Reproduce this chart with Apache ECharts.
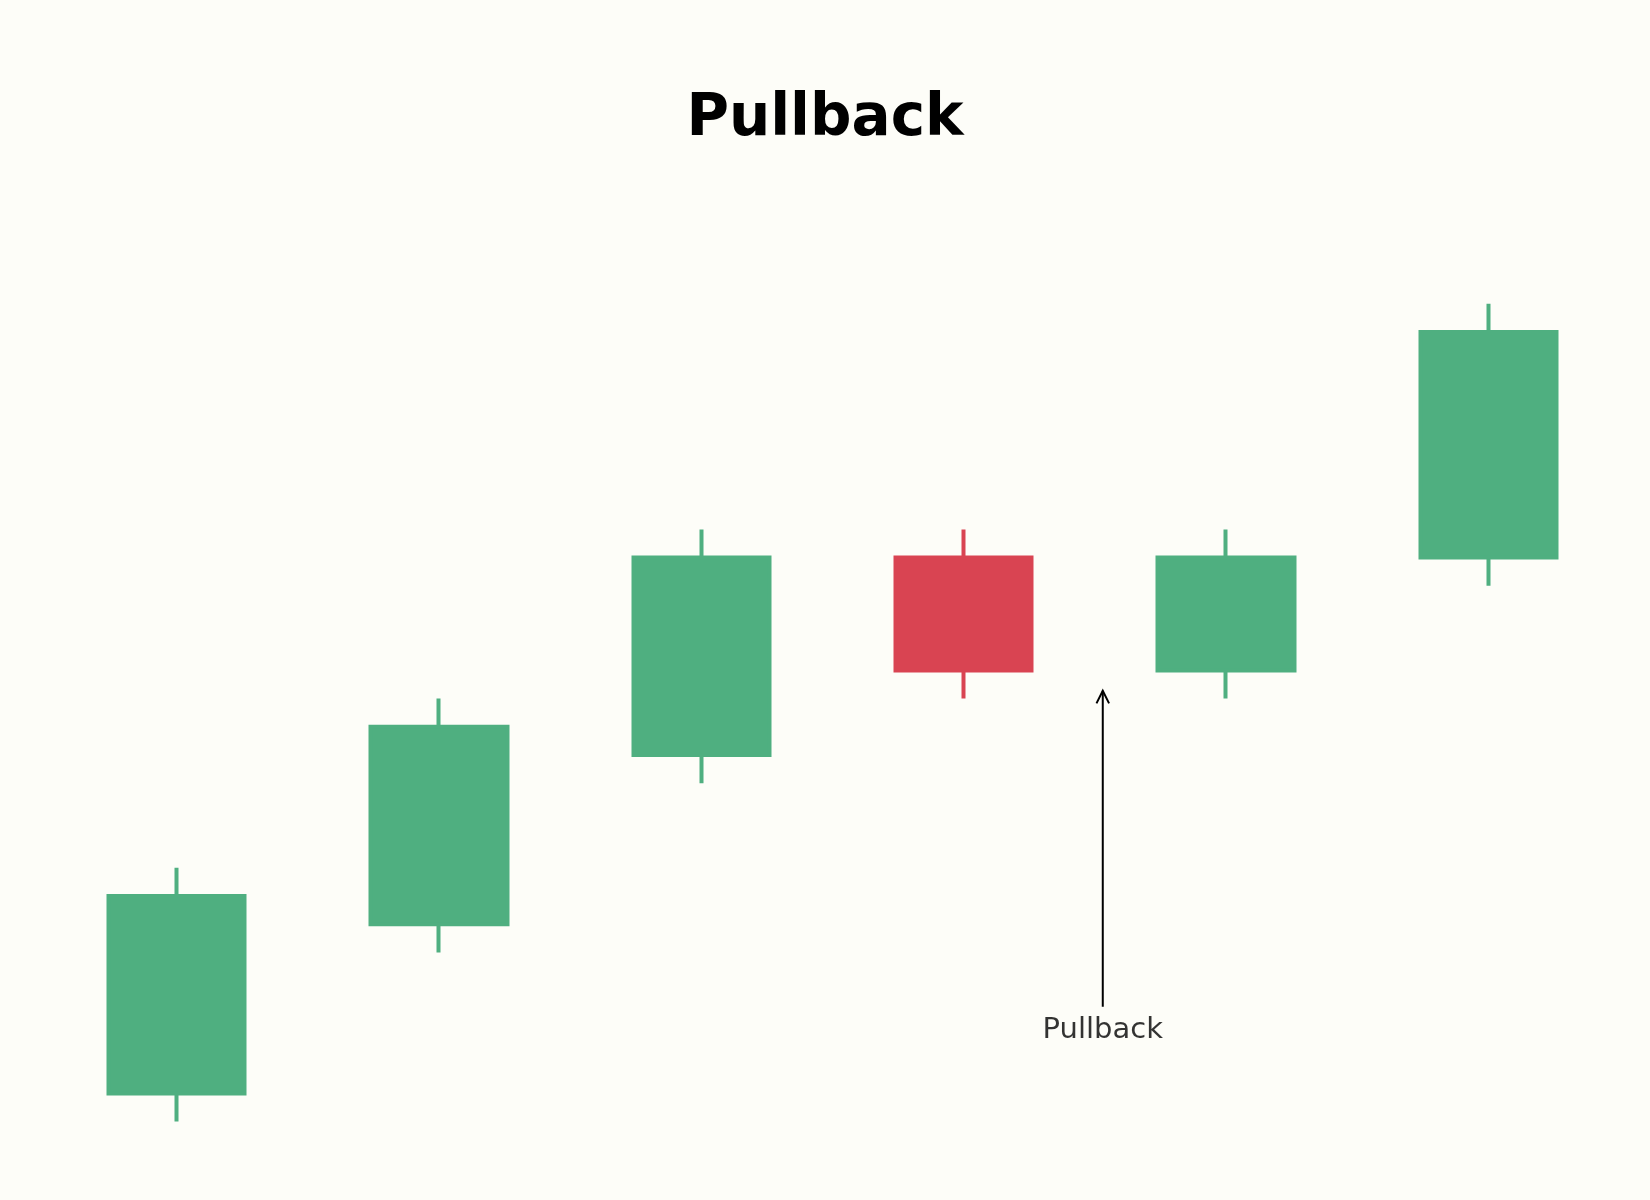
<!DOCTYPE html>
<html>
<head>
<meta charset="utf-8">
<script src="https://cdn.jsdelivr.net/npm/echarts@6/dist/echarts.min.js"></script>
<style>
html,body{margin:0;padding:0;background:#fdfdf8;}
#chart{width:1650px;height:1200px;}
</style>
</head>
<body>
<div id="chart"></div>
<script>
// Candle data: [open, close, low, high]
const categories = ['1', '2', '3', '4', '5', '6'];
const opens  = [100, 106, 112, 119, 115, 119];
const closes = [107, 113, 119, 115, 119, 127];
const lows   = [99, 105, 111, 114, 114, 118];
const highs  = [108, 114, 120, 120, 120, 128];

// Annotation (arrow from tail to tip, label under tail)
const arrowX = 3.53;
const arrowTail = 103.07;
const arrowTip = 114.28;
const arrowHeadDx = 0.024;
const arrowHeadDy = 0.45;
const labelY = 102.22;
const labelText = 'Pullback';
const titleText = 'Pullback';

const GREEN = '#4faf80';
const RED = '#d94452';

const candleData = categories.map((c, i) => [opens[i], closes[i], lows[i], highs[i]]);

const chart = echarts.init(document.getElementById('chart'), null, {renderer: 'canvas'});
chart.setOption({
  backgroundColor: '#fdfdf8',
  animation: false,
  title: {
    text: titleText,
    left: 'center',
    top: 86,
    textStyle: {fontFamily: 'DejaVu Sans', fontWeight: 'bold', fontSize: 58, color: '#000', lineHeight: 58}
  },
  grid: {left: 45.3, right: 30.3, top: 247.4, bottom: 50.2, containLabel: false},
  xAxis: [
    {type: 'category', data: categories, show: false, boundaryGap: true},
    {type: 'value', min: -0.5, max: 5.5, show: false}
  ],
  yAxis: {type: 'value', min: 98, max: 130, show: false, splitLine: {show: false}, scale: true},
  series: [
    {
      type: 'candlestick',
      xAxisIndex: 0,
      data: candleData,
      barWidth: 137,
      itemStyle: {
        color: GREEN, color0: RED,
        borderColor: GREEN, borderColor0: RED,
        borderWidth: 4
      }
    },
    {
      type: 'line',
      xAxisIndex: 1,
      data: [[arrowX, arrowTail], [arrowX, arrowTip]],
      symbol: 'none',
      lineStyle: {color: '#000', width: 2},
      silent: true
    },
    {
      type: 'line',
      xAxisIndex: 1,
      data: [[arrowX - arrowHeadDx, arrowTip - arrowHeadDy], [arrowX, arrowTip], [arrowX + arrowHeadDx, arrowTip - arrowHeadDy]],
      symbol: 'none',
      lineStyle: {color: '#000', width: 2, join: 'miter'},
      silent: true
    },
    {
      type: 'scatter',
      xAxisIndex: 1,
      data: [[arrowX, labelY]],
      symbolSize: 0,
      label: {
        show: true, position: 'inside', formatter: labelText,
        fontFamily: 'DejaVu Sans', fontSize: 29, color: '#000',
        textBorderWidth: 0,
        align: 'center', verticalAlign: 'middle'
      },
      silent: true
    }
  ]
});
</script>
</body>
</html>
